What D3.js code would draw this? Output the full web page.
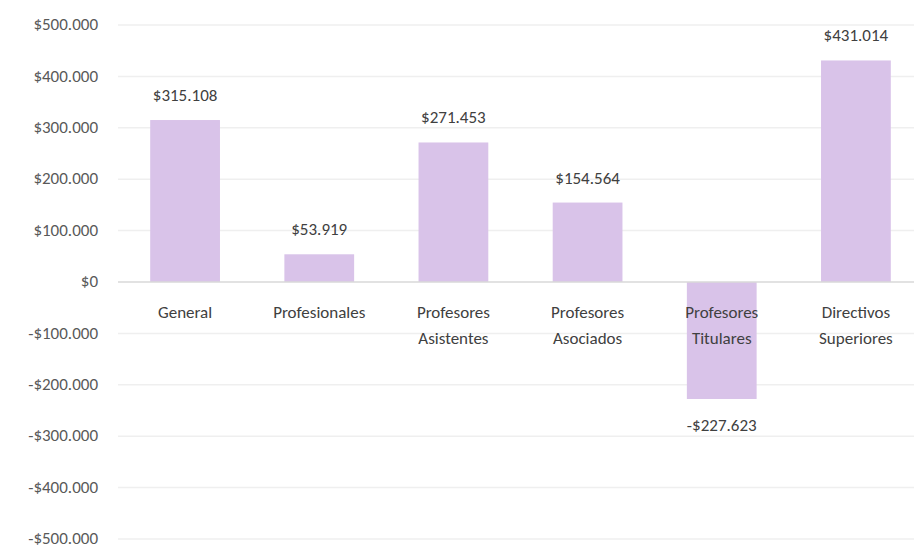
<!DOCTYPE html>
<html>
<head>
<meta charset="utf-8">
<script src="https://cdn.jsdelivr.net/npm/d3@7"></script>
<style>
  body { margin: 0; background: #fff; }
  svg { display: block; font-family: Carlito, Lato, sans-serif; }
</style>
</head>
<body>
<svg id="chart"></svg>
<script>
var w = 914;
var h = 550;

// categories (multi-line labels) and values
var categories = ["General", "Profesionales", "Profesores Asistentes", "Profesores Asociados", "Profesores Titulares", "Directivos Superiores"];
var catLines = [["General"], ["Profesionales"], ["Profesores", "Asistentes"], ["Profesores", "Asociados"], ["Profesores", "Titulares"], ["Directivos", "Superiores"]];
var values = [315108, 53919, 271453, 154564, -227623, 431014];
var yTicks = [-500000, -400000, -300000, -200000, -100000, 0, 100000, 200000, 300000, 400000, 500000];

var locale = d3.formatLocale({
	decimal: ",",
	thousands: ".",
	grouping: [3],
	currency: ["$", ""],
	minus: "-"
});
var fmt = locale.format("$,.0f");

var svg = d3.select("#chart")
	.attr("width", w)
	.attr("height", h);

var x = d3.scaleBand()
	.domain(categories)
	.range([118, 923])
	.paddingInner(0.48)
	.paddingOuter(0.24);

var y = d3.scaleLinear()
	.domain([-500000, 500000])
	.range([539, 25]);

//gridlines
svg.append("g")
	.selectAll("line")
	.data(yTicks.filter(d => d !== 0))
	.enter().append("line")
	.attr("x1", 118)
	.attr("x2", 923)
	.attr("y1", d => y(d))
	.attr("y2", d => y(d))
	.style("stroke", "#efefef")
	.style("stroke-width", "1.5px");

//y tick labels
svg.append("g")
	.selectAll("text")
	.data(yTicks)
	.enter().append("text")
	.attr("x", 98)
	.attr("y", d => y(d))
	.attr("dy", "0.3em")
	.attr("text-anchor", "end")
	.attr("font-size", 17)
	.style("fill", "#595959")
	.text(d => fmt(d));

//bars
svg.append("g")
	.selectAll("rect")
	.data(values)
	.enter().append("rect")
	.attr("x", (d, i) => x(categories[i]))
	.attr("width", x.bandwidth())
	.attr("y", d => y(Math.max(0, d)))
	.attr("height", d => Math.abs(y(d) - y(0)))
	.style("fill", "#d9c3e9");

//zero line
svg.append("line")
	.attr("x1", 118)
	.attr("x2", 923)
	.attr("y1", y(0))
	.attr("y2", y(0))
	.style("stroke", "#d9d9d9")
	.style("stroke-width", "1.5px");

//category labels
var cat = svg.append("g")
	.selectAll("text")
	.data(catLines)
	.enter().append("text")
	.attr("text-anchor", "middle")
	.attr("font-size", 17)
	.style("fill", "#404040");

cat.selectAll("tspan")
	.data((d, i) => d.map(l => ({ l: l, i: i })))
	.enter().append("tspan")
	.attr("x", d => x(categories[d.i]) + x.bandwidth() / 2)
	.attr("y", (d, j) => 318 + j * 26)
	.text(d => d.l);

//value labels
svg.append("g")
	.selectAll("text")
	.data(values)
	.enter().append("text")
	.attr("x", (d, i) => x(categories[i]) + x.bandwidth() / 2)
	.attr("y", d => d >= 0 ? y(d) - 19 : y(d) + 32)
	.attr("text-anchor", "middle")
	.attr("font-size", 17)
	.style("fill", "#404040")
	.text(d => fmt(d));
</script>
</body>
</html>
